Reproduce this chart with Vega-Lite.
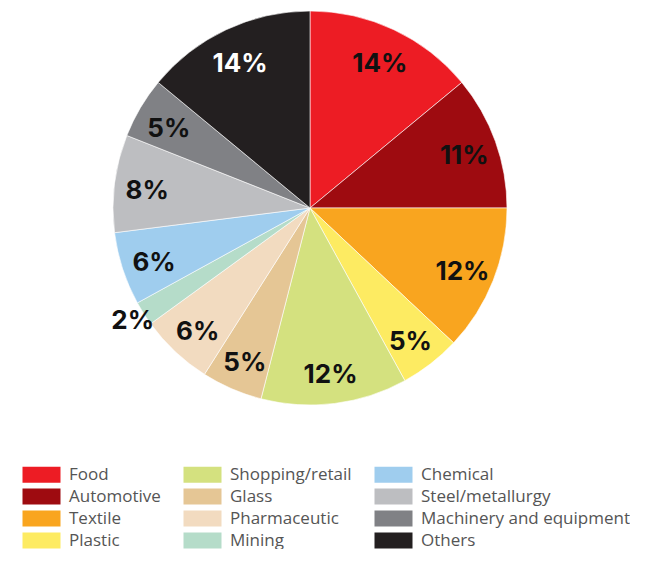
{
  "$schema": "https://vega.github.io/schema/vega-lite/v6.json",
  "width": 620,
  "height": 416,
  "padding": 0,
  "background": "white",
  "config": {"view": {"stroke": null}},
  "data": {
    "values": [
      {"cat": "Food", "value": 14, "idx": 1},
      {"cat": "Automotive", "value": 11, "idx": 2},
      {"cat": "Textile", "value": 12, "idx": 3},
      {"cat": "Plastic", "value": 5, "idx": 4},
      {"cat": "Shopping/retail", "value": 12, "idx": 5},
      {"cat": "Glass", "value": 5, "idx": 6},
      {"cat": "Pharmaceutic", "value": 6, "idx": 7},
      {"cat": "Mining", "value": 2, "idx": 8},
      {"cat": "Chemical", "value": 6, "idx": 9},
      {"cat": "Steel/metallurgy", "value": 8, "idx": 10},
      {"cat": "Machinery and equipment", "value": 5, "idx": 11},
      {"cat": "Others", "value": 14, "idx": 12}
    ]
  },
  "transform": [{"calculate": "datum.value + '%'", "as": "label"}],
  "encoding": {
    "theta": {"field": "value", "type": "quantitative", "stack": true},
    "order": {"field": "idx", "type": "quantitative"}
  },
  "layer": [
    {
      "mark": {"type": "arc", "outerRadius": 197, "stroke": "white", "strokeWidth": 0.6},
      "encoding": {
        "color": {
          "field": "cat",
          "type": "nominal",
          "scale": {
            "domain": ["Food", "Automotive", "Textile", "Plastic", "Shopping/retail", "Glass", "Pharmaceutic", "Mining", "Chemical", "Steel/metallurgy", "Machinery and equipment", "Others"],
            "range": ["#ED1C24", "#9E0B10", "#F9A51F", "#FDEB62", "#D4E17F", "#E5C695", "#F2DBC0", "#B5DCC9", "#9FCDEE", "#BDBEC1", "#808185", "#231F20"]
          },
          "legend": {
            "orient": "none",
            "legendX": 33,
            "legendY": 466,
            "title": null,
            "columns": 3,
            "gridAlign": "each",
            "columnPadding": 22,
            "rowPadding": 4,
            "symbolType": "M-2.375,-1H2.375V1H-2.375Z",
            "symbolSize": 256,
            "symbolStrokeWidth": 0,
            "symbolOpacity": 1,
            "labelFont": "Open Sans",
            "labelFontSize": 17,
            "labelColor": "#555555",
            "labelOffset": 19,
            "labelLimit": 400
          }
        }
      }
    },
    {
      "mark": {"type": "text", "radius": 164, "dy": 4, "font": "Inter", "fontSize": 26, "fontWeight": "bold", "baseline": "middle", "align": "center"},
      "encoding": {
        "detail": {"field": "cat", "type": "nominal"},
        "text": {"condition": {"test": "datum.cat !== 'Mining'", "field": "label", "type": "nominal"}, "value": ""},
        "color": {"condition": {"test": "datum.cat === 'Others'", "value": "#ffffff"}, "value": "#111111"}
      }
    },
    {
      "mark": {"type": "text", "radius": 210, "font": "Inter", "fontSize": 26, "fontWeight": "bold", "baseline": "middle", "align": "center"},
      "encoding": {
        "detail": {"field": "cat", "type": "nominal"},
        "text": {"condition": {"test": "datum.cat === 'Mining'", "field": "label", "type": "nominal"}, "value": ""},
        "color": {"value": "#111111"}
      }
    }
  ]
}
